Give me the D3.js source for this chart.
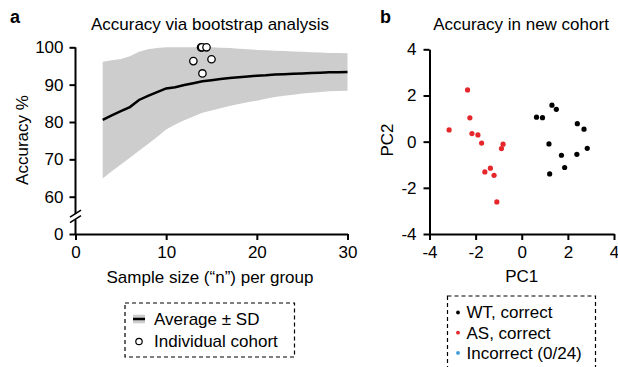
<!DOCTYPE html>
<html>
<head>
<meta charset="utf-8">
<script src="https://cdn.jsdelivr.net/npm/d3@7"></script>
<style>
  body { margin: 0; background: #fff; }
  svg { font-family: "Liberation Sans", Arial, sans-serif; }
</style>
</head>
<body>
<svg id="fig" width="618" height="367"></svg>
<script>
// panel a: bootstrap accuracy
const sampleSizes = [3, 4, 5, 6, 7, 8, 9, 10, 11, 12, 13, 14, 15, 16, 17, 18, 19, 20, 21, 22, 23, 24, 25, 26, 27, 28, 29, 30];
const meanAcc = [80.6, 81.8, 82.9, 84.0, 85.9, 87.0, 88.0, 89.0, 89.3, 89.9, 90.4, 90.9, 91.2, 91.5, 91.8, 92.0, 92.2, 92.4, 92.5, 92.7, 92.8, 92.9, 93.0, 93.1, 93.2, 93.3, 93.3, 93.4];
const upperSD = [96.1, 96.5, 96.9, 97.6, 98.8, 99.5, 99.8, 100, 100, 100, 100, 100, 100, 99.9, 99.8, 99.6, 99.5, 99.3, 99.2, 99.1, 99.0, 98.9, 98.8, 98.7, 98.6, 98.5, 98.5, 98.4];
const lowerSD = [64.9, 66.8, 68.6, 70.4, 72.3, 74.1, 76.0, 78.0, 79.3, 80.5, 81.5, 82.5, 83.1, 83.7, 84.3, 84.8, 85.3, 85.7, 86.2, 86.7, 87.0, 87.3, 87.6, 87.8, 88.0, 88.2, 88.3, 88.4];
const cohortN = [13.85, 13.95, 14.45, 13.0, 15.0, 14.0];
const cohortAcc = [100, 100, 100, 96.3, 96.8, 93.0];
const yTicksA = [0, 60, 70, 80, 90, 100];
const xTicksA = [0, 10, 20, 30];

// panel b: PCA of new cohort
const wtPC1 = [0.64, 0.90, 1.31, 1.50, 2.41, 2.70, 1.18, 1.72, 2.39, 2.84, 1.21, 1.86];
const wtPC2 = [1.06, 1.04, 1.58, 1.40, 0.78, 0.54, -0.10, -0.59, -0.55, -0.29, -1.40, -1.12];
const asPC1 = [-3.15, -2.35, -2.25, -2.16, -1.90, -1.74, -0.81, -0.88, -1.60, -1.36, -1.20, -1.08];
const asPC2 = [0.51, 2.24, 1.03, 0.35, 0.29, -0.06, -0.11, -0.30, -1.31, -1.15, -1.46, -2.61];
const pcTicks = [-4, -2, 0, 2, 4];
const legendB = ["WT, correct", "AS, correct", "Incorrect (0/24)"];

const RED = "#e5262b", BLUE = "#3a9ad9", GREY = "#cdcdcd";
const FS = 17;

const svg = d3.select("#fig");

function styleAxis(g) {
    g.selectAll("path, line").attr("stroke", "#000").attr("stroke-width", 2);
    g.selectAll("text").attr("font-size", FS).attr("fill", "#000")
        .attr("font-family", "Liberation Sans, Arial, sans-serif");
}

// ---------- panel a ----------
const xA = d3.scaleLinear().domain([0, 30]).range([75.5, 347.5]);
const yA = d3.scaleLinear().domain([0, 60, 100]).range([234, 196.7, 47.3]);

const bandRows = sampleSizes.map((n, i) => ({ n: n, m: meanAcc[i], hi: upperSD[i], lo: lowerSD[i] }));

svg.append("path")
    .datum(bandRows)
    .attr("fill", GREY)
    .attr("d", d3.area().x(d => xA(d.n)).y0(d => yA(d.lo)).y1(d => yA(d.hi)));

svg.append("path")
    .datum(bandRows)
    .attr("fill", "none")
    .attr("stroke", "#000")
    .attr("stroke-width", 2.5)
    .attr("d", d3.line().x(d => xA(d.n)).y(d => yA(d.m)));

svg.selectAll(".cohort")
    .data(cohortN.map((n, i) => [n, cohortAcc[i]]))
    .enter()
    .append("circle")
    .attr("class", "cohort")
    .attr("cx", d => xA(d[0]))
    .attr("cy", d => yA(d[1]))
    .attr("r", 3.7)
    .attr("fill", "#fff")
    .attr("stroke", "#000")
    .attr("stroke-width", 1.3);

const xAxisA = svg.append("g")
    .attr("transform", `translate(0,${yA(0)})`)
    .call(d3.axisBottom(xA).tickValues(xTicksA).tickSizeInner(6).tickSizeOuter(0).tickPadding(6))
    .call(styleAxis);

const yAxisA = svg.append("g")
    .attr("transform", `translate(${xA(0)},0)`)
    .call(d3.axisLeft(yA).tickValues(yTicksA).tickSizeInner(6).tickSizeOuter(0).tickPadding(6))
    .call(styleAxis);
yAxisA.select(".domain").remove();

// y axis line with a break between 0 and 60
const breakY = yA(28);
const ax = xA(0);
yAxisA.append("line").attr("x1", 0).attr("x2", 0).attr("y1", yA(100)).attr("y2", breakY - 2.5)
    .attr("stroke", "#000").attr("stroke-width", 2).attr("transform", `translate(0,0)`);
yAxisA.append("line").attr("x1", 0).attr("x2", 0).attr("y1", breakY + 3).attr("y2", yA(0) + 1)
    .attr("stroke", "#000").attr("stroke-width", 2);
[-3, 2.5].forEach(off => {
    yAxisA.append("line")
        .attr("x1", -5.5).attr("y1", breakY + off + 3.5)
        .attr("x2", 5.5).attr("y2", breakY + off - 3.5)
        .attr("stroke", "#000").attr("stroke-width", 1.6);
});

svg.append("text")
    .attr("x", 10).attr("y", 23)
    .attr("font-size", 18).attr("font-weight", "bold")
    .text("a");

svg.append("text")
    .attr("x", 210).attr("y", 29.5)
    .attr("text-anchor", "middle").attr("font-size", FS)
    .text("Accuracy via bootstrap analysis");

svg.append("text")
    .attr("transform", "translate(27.5,140) rotate(-90)")
    .attr("text-anchor", "middle").attr("font-size", FS)
    .text("Accuracy %");

svg.append("text")
    .attr("x", 210).attr("y", 282.5)
    .attr("text-anchor", "middle").attr("font-size", FS)
    .text("Sample size (\u201cn\u201d) per group");

// legend a
const legA = svg.append("g");
legA.append("rect")
    .attr("x", 125).attr("y", 303).attr("width", 169.5).attr("height", 54)
    .attr("fill", "none").attr("stroke", "#000").attr("stroke-width", 1.2)
    .attr("stroke-dasharray", "4,3");
legA.append("rect")
    .attr("x", 133).attr("y", 314.7).attr("width", 12).attr("height", 8.6)
    .attr("fill", GREY);
legA.append("line")
    .attr("x1", 133).attr("x2", 145).attr("y1", 319).attr("y2", 319)
    .attr("stroke", "#000").attr("stroke-width", 2.5);
legA.append("circle")
    .attr("cx", 139).attr("cy", 341.5).attr("r", 3.2)
    .attr("fill", "#fff").attr("stroke", "#000").attr("stroke-width", 1.2);
legA.append("text").attr("x", 154).attr("y", 324.5).attr("font-size", FS).text("Average \u00b1 SD");
legA.append("text").attr("x", 154).attr("y", 347).attr("font-size", FS).text("Individual cohort");

// ---------- panel b ----------
const xB = d3.scaleLinear().domain([-4, 4]).range([429.5, 614]);
const yB = d3.scaleLinear().domain([-4, 4]).range([234, 49.3]);

svg.append("g")
    .attr("transform", `translate(0,${yB(-4)})`)
    .call(d3.axisBottom(xB).tickValues(pcTicks).tickFormat(d => d).tickSizeInner(6).tickSizeOuter(0).tickPadding(6))
    .call(styleAxis);

svg.append("g")
    .attr("transform", `translate(${xB(-4)},0)`)
    .call(d3.axisLeft(yB).tickValues(pcTicks).tickFormat(d => d).tickSizeInner(6).tickSizeOuter(0).tickPadding(7))
    .call(styleAxis);

svg.selectAll(".wt")
    .data(wtPC1.map((v, i) => [v, wtPC2[i]]))
    .enter()
    .append("circle")
    .attr("class", "wt")
    .attr("cx", d => xB(d[0]))
    .attr("cy", d => yB(d[1]))
    .attr("r", 2.6)
    .attr("fill", "#000");

svg.selectAll(".as")
    .data(asPC1.map((v, i) => [v, asPC2[i]]))
    .enter()
    .append("circle")
    .attr("class", "as")
    .attr("cx", d => xB(d[0]))
    .attr("cy", d => yB(d[1]))
    .attr("r", 2.6)
    .attr("fill", RED);

svg.append("text")
    .attr("x", 380).attr("y", 23)
    .attr("font-size", 18).attr("font-weight", "bold")
    .text("b");

svg.append("text")
    .attr("x", 521).attr("y", 29.5)
    .attr("text-anchor", "middle").attr("font-size", FS)
    .text("Accuracy in new cohort");

svg.append("text")
    .attr("transform", "translate(392.5,140) rotate(-90)")
    .attr("text-anchor", "middle").attr("font-size", FS)
    .text("PC2");

svg.append("text")
    .attr("x", xB(0)).attr("y", 282)
    .attr("text-anchor", "middle").attr("font-size", FS)
    .text("PC1");

// legend b
const legB = svg.append("g");
legB.append("rect")
    .attr("x", 447.5).attr("y", 296).attr("width", 148).attr("height", 85)
    .attr("fill", "none").attr("stroke", "#000").attr("stroke-width", 1.2)
    .attr("stroke-dasharray", "4,3");
const legColors = ["#000", RED, BLUE];
legendB.forEach((label, i) => {
    legB.append("circle")
        .attr("cx", 458).attr("cy", 312.5 + i * 20.2).attr("r", 1.9)
        .attr("fill", legColors[i]);
    legB.append("text")
        .attr("x", 466.5).attr("y", 318.3 + i * 20.4)
        .attr("font-size", FS)
        .text(label);
});
</script>
</body>
</html>
